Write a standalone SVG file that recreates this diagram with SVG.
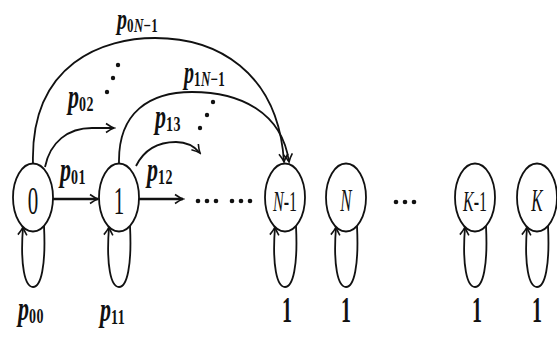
<svg xmlns="http://www.w3.org/2000/svg" width="557" height="338" viewBox="0 0 557 338">
<defs>
<style>
.node ellipse{fill:#fff;stroke:#111;stroke-width:1.8}
.edge{fill:none;stroke:#111;stroke-width:1.8}
.thick{stroke-width:2.6}
.nl{font-family:"Liberation Serif",serif;font-size:21px;fill:#111;text-anchor:middle}
.it{font-style:italic}
.p{font-family:"Liberation Serif",serif;font-size:22px;font-style:italic;font-weight:bold;fill:#111}
.sub{font-size:14px;font-style:normal;font-weight:bold;letter-spacing:0.5px}
.subi{font-size:14px;font-style:italic;font-weight:bold}
.one{font-family:"Liberation Serif",serif;font-size:20px;font-weight:bold;fill:#111;text-anchor:middle}
.dot{fill:#111}
</style>
<marker id="ah" viewBox="-10 -6 12 12" refX="0" refY="0" markerWidth="12" markerHeight="12" markerUnits="userSpaceOnUse" orient="auto-start-reverse">
<path d="M-8,-4.5 Q-3,-1 0,0 Q-3,1 -8,4.5" fill="none" stroke="#111" stroke-width="1.6"/>
</marker>
</defs>
<rect width="557" height="338" fill="#fff"/>

<g id="connectors">
<path class="edge" d="M33,164 C30,62 105,38 155,38 C215,38 278,70 284,162" marker-end="url(#ah)"/>
<path class="edge" d="M119,163 C118,112 150,92 192,92 C240,92 282,112 289,162" marker-end="url(#ah)"/>
<path class="edge" d="M45,167 C50,142 68,128 92,128 L114,128" marker-end="url(#ah)"/>
<path class="edge" d="M136,166 C144,150 158,142 176,142 C188,142 195,147 200,153" marker-end="url(#ah)"/>
<path class="edge thick" d="M53,199 L98,199" marker-end="url(#ah)"/>
<path class="edge thick" d="M139,199 L183,199" marker-end="url(#ah)"/>
<path class="edge" d="M23,227 C20,266 25,287 33,287 C41,287 46,266 44,226" marker-start="url(#ah)"/>
<path class="edge" d="M109,227 C106,266 111,287 119,287 C127,287 132,266 130,226" marker-start="url(#ah)"/>
<path class="edge" d="M275,227 C272,266 277,287 285,287 C293,287 298,266 296,226" marker-start="url(#ah)"/>
<path class="edge" d="M336,227 C333,266 338,287 346,287 C354,287 359,266 357,226" marker-start="url(#ah)"/>
<path class="edge" d="M465,227 C462,266 467,287 475,287 C483,287 488,266 486,226" marker-start="url(#ah)"/>
<path class="edge" d="M527,227 C524,266 529,287 537,287 C545,287 550,266 548,226" marker-start="url(#ah)"/>
<g class="dot">
<circle cx="107" cy="92" r="2.2"/><circle cx="113" cy="78" r="2.2"/><circle cx="118" cy="65" r="2.2"/>
<circle cx="200" cy="128" r="2.2"/><circle cx="207" cy="115" r="2.2"/><circle cx="213" cy="102" r="2.2"/>
<circle cx="198" cy="201" r="2.3"/><circle cx="207" cy="201" r="2.3"/><circle cx="216" cy="201" r="2.3"/>
<circle cx="232" cy="201" r="2.3"/><circle cx="241" cy="201" r="2.3"/><circle cx="250" cy="201" r="2.3"/>
<circle cx="396" cy="202" r="2.3"/><circle cx="405" cy="202" r="2.3"/><circle cx="414" cy="202" r="2.3"/>
</g>
</g>

<g id="node-0" class="node"><ellipse cx="33" cy="197.5" rx="20" ry="34"/><text class="nl" transform="translate(33,214) scale(1,1.9)">0</text></g>
<g id="node-1" class="node"><ellipse cx="119" cy="197.5" rx="20" ry="34"/><text class="nl" transform="translate(119,214) scale(1,1.9)">1</text></g>
<g id="node-N-1" class="node"><ellipse cx="285" cy="197.5" rx="20" ry="34"/><text class="nl" style="font-size:16px" transform="translate(285,211) scale(1,1.9)"><tspan class="it">N</tspan>-1</text></g>
<g id="node-N" class="node"><ellipse cx="346" cy="197.5" rx="20" ry="34"/><text class="nl it" style="font-size:17px" transform="translate(346,211) scale(1,1.9)">N</text></g>
<g id="node-K-1" class="node"><ellipse cx="475" cy="197.5" rx="20" ry="34"/><text class="nl" style="font-size:16px" transform="translate(475,211) scale(1,1.9)"><tspan class="it">K</tspan>-1</text></g>
<g id="node-K" class="node"><ellipse cx="537" cy="197.5" rx="20" ry="34"/><text class="nl it" style="font-size:17px" transform="translate(537,211) scale(1,1.9)">K</text></g>

<g id="labels">
<text class="p" style="font-size:20px" transform="translate(117,28.5) scale(1,1.5)">p<tspan class="sub" style="font-size:13px" dy="2">0</tspan><tspan class="subi" style="font-size:13px">N</tspan><tspan class="sub" style="font-size:13px">−1</tspan></text>
<text class="p" style="font-size:20px" transform="translate(184,83) scale(1,1.55)">p<tspan class="sub" style="font-size:13px" dy="2">1</tspan><tspan class="subi" style="font-size:13px">N</tspan><tspan class="sub" style="font-size:13px">−1</tspan></text>
<text class="p" transform="translate(68,108) scale(1,1.55)">p<tspan class="sub" dy="2">02</tspan></text>
<text class="p" transform="translate(155,128) scale(1,1.55)">p<tspan class="sub" dy="2">13</tspan></text>
<text class="p" transform="translate(60,181) scale(1,1.55)">p<tspan class="sub" dy="2">01</tspan></text>
<text class="p" transform="translate(147,181) scale(1,1.55)">p<tspan class="sub" dy="2">12</tspan></text>
<text class="p" transform="translate(18,320) scale(1,1.55)">p<tspan class="sub" dy="2">00</tspan></text>
<text class="p" transform="translate(100,321) scale(1,1.55)">p<tspan class="sub" dy="2">11</tspan></text>
<text class="one" transform="translate(287,322) scale(1,1.8)">1</text>
<text class="one" transform="translate(346,322) scale(1,1.8)">1</text>
<text class="one" transform="translate(477,322) scale(1,1.8)">1</text>
<text class="one" transform="translate(537,322) scale(1,1.8)">1</text>
</g>
</svg>
